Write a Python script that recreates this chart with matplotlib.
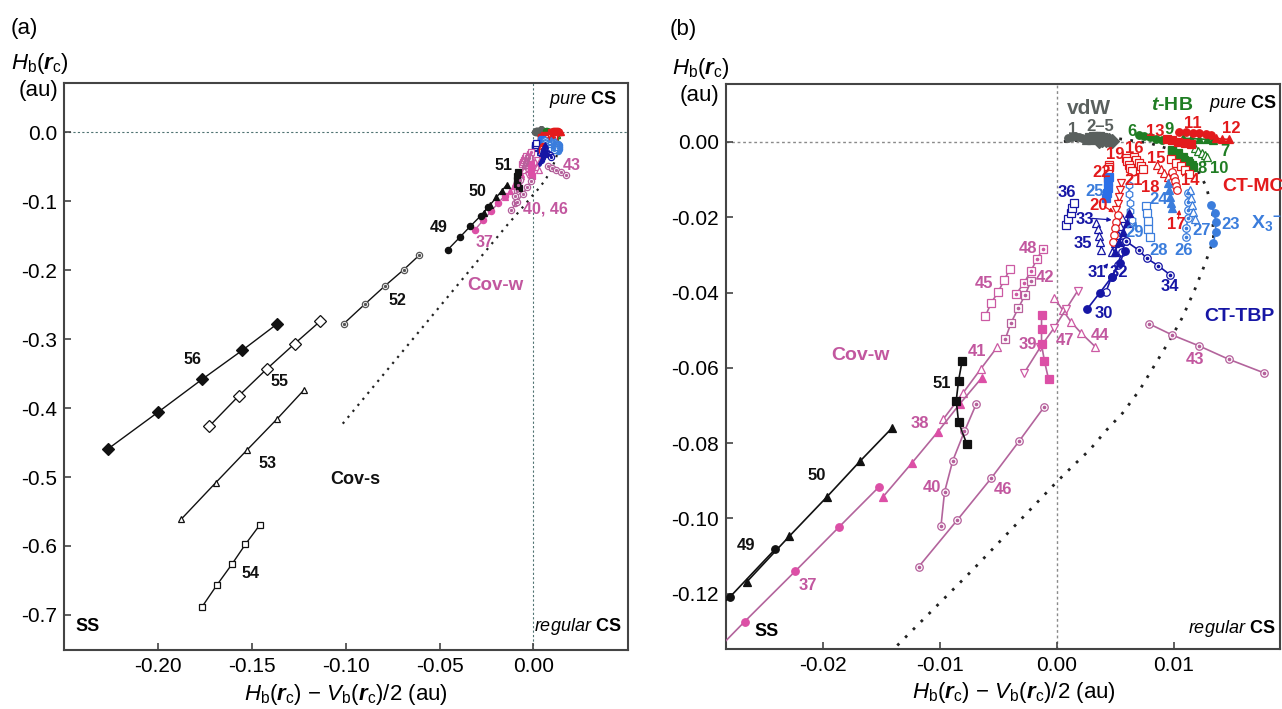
import matplotlib
matplotlib.use('Agg')
import matplotlib.pyplot as plt

plt.rcParams['font.family'] = ['Liberation Sans', 'DejaVu Sans']
plt.rcParams['axes.unicode_minus'] = False
plt.rcParams['mathtext.fontset'] = 'custom'
plt.rcParams['mathtext.rm'] = 'Liberation Sans'
plt.rcParams['mathtext.it'] = 'Liberation Sans:italic'
plt.rcParams['mathtext.bf'] = 'Liberation Sans:bold'
plt.rcParams['mathtext.bfit'] = 'Liberation Sans:italic:bold'

# ---- datos: H_b - V_b/2 (x) y H_b (y) en au, por sistema ----
# vdW
s1_x = [0.0010, 0.0013, 0.0016, 0.0019, 0.0022]
s1_y = [0.0011, 0.0014, 0.0015, 0.0014, 0.0011]
s2_x = [0.0028, 0.0031, 0.0034, 0.0037, 0.0040]
s2_y = [0.0012, 0.0015, 0.0016, 0.0015, 0.0012]
s3_x = [0.0033, 0.0036, 0.0039, 0.0042, 0.0045]
s3_y = [0.0008, 0.0011, 0.0013, 0.0012, 0.0009]
s4_x = [0.0025, 0.0029, 0.0033, 0.0037, 0.0041]
s4_y = [0.0004, 0.0006, 0.0007, 0.0006, 0.0004]
s5_x = [0.0036, 0.0039, 0.0042, 0.0045, 0.0047]
s5_y = [0.0003, 0.0005, 0.0006, 0.0005, 0.0003]
# t-HB
s6_x = [0.0070, 0.0075, 0.0080, 0.0085, 0.0090]
s6_y = [0.0019, 0.0016, 0.0012, 0.0009, 0.0005]
s7_x = [0.0118, 0.0121, 0.0124, 0.0127, 0.0129]
s7_y = [-0.0017, -0.0023, -0.0029, -0.0034, -0.0039]
s8_x = [0.0099, 0.0104, 0.0109, 0.0113, 0.0117]
s8_y = [-0.0025, -0.0036, -0.0047, -0.0057, -0.0066]
s9_x = [0.0108, 0.0115, 0.0122, 0.0129, 0.0134]
s9_y = [0.0010, 0.0009, 0.0008, 0.0007, 0.0006]
s10_x = [0.0099, 0.0104, 0.0108, 0.0112, 0.0116]
s10_y = [-0.0021, -0.0030, -0.0041, -0.0050, -0.0061]
# CT-MC
s11_x = [0.0105, 0.0111, 0.0117, 0.0122, 0.0128, 0.0132]
s11_y = [0.0026, 0.0026, 0.0025, 0.0023, 0.0021, 0.0019]
s12_x = [0.0136, 0.0141, 0.0147]
s12_y = [0.0010, 0.0008, 0.0007]
s13_x = [0.0094, 0.0099, 0.0104, 0.0110, 0.0115]
s13_y = [0.0007, 0.0004, 0.0001, -0.0002, -0.0005]
s14_x = [0.0098, 0.0102, 0.0106, 0.0110, 0.0113]
s14_y = [-0.0045, -0.0055, -0.0065, -0.0075, -0.0085]
s15_x = [0.0086, 0.0089, 0.0092, 0.0095, 0.0098]
s15_y = [-0.0062, -0.0072, -0.0082, -0.0092, -0.0102]
s16_x = [0.0066, 0.0068, 0.0070, 0.0072, 0.0074]
s16_y = [-0.0040, -0.0048, -0.0056, -0.0064, -0.0071]
s18_x = [0.0099, 0.0100, 0.0101, 0.0102, 0.0103]
s18_y = [-0.0080, -0.0092, -0.0104, -0.0116, -0.0128]
s19_x = [0.0059, 0.0060, 0.0062, 0.0063, 0.0064]
s19_y = [-0.0042, -0.0051, -0.0060, -0.0068, -0.0076]
s20_x = [0.0052, 0.0051, 0.0050, 0.0049, 0.0048]
s20_y = [-0.0194, -0.0212, -0.0229, -0.0247, -0.0265]
s21_x = [0.0055, 0.0054, 0.0053, 0.0052, 0.0051]
s21_y = [-0.0110, -0.0128, -0.0146, -0.0164, -0.0181]
s22_x = [0.0045, 0.0045, 0.0044, 0.0044, 0.0044]
s22_y = [-0.0061, -0.0067, -0.0073, -0.0085, -0.0096]
# X3-
s23_x = [0.0132, 0.0135, 0.0136, 0.0136, 0.0134]
s23_y = [-0.0167, -0.0189, -0.0212, -0.0238, -0.0269]
s24_x = [0.0095, 0.0096, 0.0097, 0.0098, 0.0099]
s24_y = [-0.0110, -0.0127, -0.0145, -0.0163, -0.0176]
s25_x = [0.0045, 0.0044, 0.0044, 0.0043, 0.0042]
s25_y = [-0.0092, -0.0107, -0.0121, -0.0136, -0.0150]
s26_x = [0.0112, 0.0112, 0.0112, 0.0112, 0.0111, 0.0111]
s26_y = [-0.0136, -0.0159, -0.0181, -0.0203, -0.0229, -0.0252]
s27_x = [0.0114, 0.0115, 0.0116, 0.0117, 0.0118]
s27_y = [-0.0128, -0.0149, -0.0167, -0.0185, -0.0205]
s28_x = [0.0076, 0.0077, 0.0078, 0.0078, 0.0080]
s28_y = [-0.0169, -0.0189, -0.0209, -0.0232, -0.0253]
s29_x = [0.0062, 0.0062, 0.0063, 0.0063, 0.0064]
s29_y = [-0.0115, -0.0138, -0.0161, -0.0184, -0.0207]
# CT-TBP
s30_x = [0.0026, 0.0037, 0.0047, 0.0054, 0.0058]
s30_y = [-0.0444, -0.0400, -0.0359, -0.0322, -0.0289]
s31_x = [0.0050, 0.0053, 0.0057, 0.0060, 0.0062]
s31_y = [-0.0291, -0.0265, -0.0238, -0.0214, -0.0189]
s32_x = [0.0042, 0.0047, 0.0052, 0.0056, 0.0059]
s32_y = [-0.0399, -0.0358, -0.0327, -0.0291, -0.0263]
s33_x = [0.0047, 0.0050, 0.0052, 0.0054, 0.0056]
s33_y = [-0.0292, -0.0268, -0.0247, -0.0223, -0.0202]
s34_x = [0.0059, 0.0070, 0.0077, 0.0087, 0.0097]
s34_y = [-0.0263, -0.0287, -0.0309, -0.0329, -0.0353]
s35_x = [0.0034, 0.0035, 0.0036, 0.0037, 0.0038]
s35_y = [-0.0214, -0.0232, -0.0250, -0.0267, -0.0287]
s36_x = [0.0008, 0.0010, 0.0012, 0.0013, 0.0015]
s36_y = [-0.0220, -0.0205, -0.0189, -0.0176, -0.0161]
# Cov-w
s37_x = [-0.0313, -0.0267, -0.0224, -0.0186, -0.0152]
s37_y = [-0.1420, -0.1274, -0.1141, -0.1022, -0.0916]
s38_x = [-0.0149, -0.0124, -0.0102, -0.0083, -0.0064]
s38_y = [-0.0944, -0.0853, -0.0771, -0.0696, -0.0626]
s39_x = [-0.0013, -0.0013, -0.0013, -0.00105, -0.0007]
s39_y = [-0.0460, -0.0498, -0.0538, -0.0582, -0.0630]
s40_x = [-0.0069, -0.0079, -0.0089, -0.0096, -0.0099]
s40_y = [-0.0697, -0.0769, -0.0847, -0.0930, -0.1019]
s41_x = [-0.0097, -0.0080, -0.0065, -0.0051]
s41_y = [-0.0736, -0.0666, -0.0603, -0.0545]
s42_x = [-0.0044, -0.0039, -0.0033, -0.0027, -0.0022]
s42_y = [-0.0523, -0.0480, -0.0442, -0.0406, -0.0369]
s43_x = [0.0079, 0.0099, 0.0122, 0.0147, 0.0177]
s43_y = [-0.0483, -0.0513, -0.0542, -0.0577, -0.0613]
s44_x = [-0.0002, 0.0005, 0.0012, 0.0021, 0.0033]
s44_y = [-0.0415, -0.0446, -0.0477, -0.0508, -0.0544]
s45_x = [-0.0061, -0.0056, -0.0050, -0.0045, -0.0040]
s45_y = [-0.0462, -0.0427, -0.0398, -0.0367, -0.0338]
s46_x = [-0.0118, -0.0085, -0.0056, -0.0032, -0.0011]
s46_y = [-0.1128, -0.1004, -0.0893, -0.0794, -0.0705]
s47_x = [-0.0028, -0.0014, -0.0002, 0.0008, 0.0018]
s47_y = [-0.0614, -0.0545, -0.0493, -0.0444, -0.0395]
s48_x = [-0.0035, -0.0028, -0.0022, -0.0017, -0.0012]
s48_y = [-0.0405, -0.0375, -0.0342, -0.0312, -0.0284]
# SS / Cov-s
s49_x = [-0.0455, -0.0391, -0.0335, -0.0280, -0.0241]
s49_y = [-0.170, -0.152, -0.136, -0.121, -0.1082]
s50_x = [-0.0265, -0.0229, -0.0197, -0.0168, -0.0141]
s50_y = [-0.1168, -0.1048, -0.0944, -0.0847, -0.0760]
s51_x = [-0.0081, -0.0084, -0.0086, -0.0084, -0.0077]
s51_y = [-0.0582, -0.0634, -0.0687, -0.0744, -0.0802]
s52_x = [-0.1011, -0.0896, -0.0789, -0.0690, -0.0608]
s52_y = [-0.2777, -0.2487, -0.2222, -0.1990, -0.1782]
s53_x = [-0.1878, -0.1693, -0.1527, -0.1365, -0.1225]
s53_y = [-0.5613, -0.5081, -0.4609, -0.4154, -0.3743]
s54_x = [-0.1769, -0.1688, -0.1607, -0.1535, -0.1457]
s54_y = [-0.6893, -0.6570, -0.6265, -0.5975, -0.5690]
s55_x = [-0.1727, -0.1572, -0.1420, -0.1273, -0.1136]
s55_y = [-0.4261, -0.3826, -0.3429, -0.3067, -0.2739]
s56_x = [-0.2266, -0.2000, -0.1767, -0.1551, -0.1365]
s56_y = [-0.4588, -0.4057, -0.3584, -0.3160, -0.2777]

# curva límite (punteada)
limite_x = [-0.1016, -0.01385, -0.0072, 0.0, 0.00137, 0.00282, 0.00427, 0.00564,
            0.00709, 0.00855, 0.00983, 0.01077, 0.0118, 0.01265, 0.01342, 0.01333,
            0.01282, 0.01197, 0.0105, 0.00795, 0.00479, 0.0]
limite_y = [-0.4226, -0.1344, -0.1137, -0.0903, -0.0861, -0.0818, -0.0765, -0.0720,
            -0.0659, -0.0584, -0.0518, -0.0465, -0.0393, -0.0327, -0.0260, -0.0189,
            -0.0120, -0.0069, -0.0027, -0.0003, 0.0011, 0.0]

# colores
BLACK = '#111111'
GREY = '#5a605e'
GREEN = '#1f7d23'
RED = '#e31a1c'
SKY = '#3b7ddc'
NAVY = '#1616a5'
PINK = '#dc4fa6'
PINK_LINE = '#b3649c'
PINK_TXT = '#c2579f'

# (x, y, color marcador, color línea, marcador, relleno)
series = [
    (s1_x, s1_y, GREY, GREY, 'o', 'full'),
    (s2_x, s2_y, GREY, GREY, 's', 'full'),
    (s3_x, s3_y, GREY, GREY, 'o', 'full'),
    (s4_x, s4_y, GREY, GREY, '^', 'full'),
    (s5_x, s5_y, GREY, GREY, 'D', 'full'),
    (s6_x, s6_y, GREEN, GREEN, 'o', 'full'),
    (s9_x, s9_y, GREEN, GREEN, '^', 'full'),
    (s7_x, s7_y, GREEN, GREEN, '^', 'open'),
    (s8_x, s8_y, GREEN, GREEN, 's', 'full'),
    (s10_x, s10_y, GREEN, GREEN, 's', 'full'),
    (s11_x, s11_y, RED, RED, 'o', 'full'),
    (s12_x, s12_y, RED, RED, '^', 'full'),
    (s13_x, s13_y, RED, RED, 's', 'full'),
    (s14_x, s14_y, RED, RED, 's', 'open'),
    (s15_x, s15_y, RED, RED, '^', 'open'),
    (s16_x, s16_y, RED, RED, 's', 'open'),
    (s18_x, s18_y, RED, RED, 'o', 'open'),
    (s19_x, s19_y, RED, RED, 's', 'open'),
    (s21_x, s21_y, RED, RED, 'v', 'open'),
    (s22_x, s22_y, RED, RED, 's', 'open'),
    (s23_x, s23_y, SKY, SKY, 'o', 'full'),
    (s24_x, s24_y, SKY, SKY, '^', 'full'),
    (s25_x, s25_y, '#2b6fe8', '#2b6fe8', 's', 'full'),
    (s26_x, s26_y, SKY, SKY, 'o', 'dot'),
    (s27_x, s27_y, SKY, SKY, '^', 'open'),
    (s28_x, s28_y, SKY, SKY, 's', 'open'),
    (s29_x, s29_y, SKY, SKY, 'h', 'open'),
    (s36_x, s36_y, NAVY, NAVY, 's', 'open'),
    (s35_x, s35_y, NAVY, NAVY, '^', 'open'),
    (s33_x, s33_y, NAVY, NAVY, '^', 'open'),
    (s20_x, s20_y, RED, RED, 'o', 'open'),
    (s31_x, s31_y, NAVY, NAVY, '^', 'full'),
    (s34_x, s34_y, NAVY, NAVY, 'o', 'dot'),
    (s32_x, s32_y, NAVY, NAVY, 'o', 'open'),
    (s30_x, s30_y, NAVY, NAVY, 'o', 'full'),
    (s45_x, s45_y, '#cc5aa3', PINK_LINE, 's', 'open'),
    (s48_x, s48_y, '#cc5aa3', PINK_LINE, 's', 'dot'),
    (s42_x, s42_y, '#b8609c', PINK_LINE, 's', 'dot'),
    (s41_x, s41_y, '#cc5aa3', PINK_LINE, '^', 'open'),
    (s44_x, s44_y, '#cc5aa3', PINK_LINE, '^', 'open'),
    (s47_x, s47_y, '#cc5aa3', PINK_LINE, 'v', 'open'),
    (s39_x, s39_y, PINK, PINK_LINE, 's', 'full'),
    (s38_x, s38_y, PINK, PINK_LINE, '^', 'full'),
    (s40_x, s40_y, '#b5609b', PINK_LINE, 'o', 'dot'),
    (s46_x, s46_y, '#b5609b', PINK_LINE, 'o', 'dot'),
    (s43_x, s43_y, '#b5609b', PINK_LINE, 'o', 'dot'),
    (s37_x, s37_y, PINK, PINK_LINE, 'o', 'full'),
    (s49_x, s49_y, BLACK, BLACK, 'o', 'full'),
    (s50_x, s50_y, BLACK, BLACK, '^', 'full'),
    (s51_x, s51_y, BLACK, BLACK, 's', 'full'),
    (s52_x, s52_y, '#555555', BLACK, 'o', 'dot'),
    (s53_x, s53_y, BLACK, BLACK, '^', 'open'),
    (s54_x, s54_y, BLACK, BLACK, 's', 'open'),
    (s55_x, s55_y, BLACK, BLACK, 'D', 'open'),
    (s56_x, s56_y, BLACK, BLACK, 'D', 'full'),
]


def dibuja_series(ax, ms, lw):
    for xs, ys, mc, lc, mk, fill in series:
        size = ms * 1.35 if mk == 'D' else ms
        face = mc if fill == 'full' else 'white'
        ax.plot(xs, ys, color=lc, lw=lw, marker=mk, ms=size, mfc=face,
                mec=mc, mew=0.9, zorder=3)
        if fill == 'dot':
            ax.plot(xs, ys, ls='none', marker='o', ms=size * 0.3,
                    mfc=mc, mec=mc, zorder=4)


def estilo_ejes(ax):
    for sp in ax.spines.values():
        sp.set_color('#444444')
        sp.set_linewidth(1.5)
    ax.tick_params(direction='in', length=5, width=1.2, labelsize=15,
                   color='#444444', pad=5)


fig = plt.figure(figsize=(12.82, 7.09), dpi=100)

# ---------------- panel (a) ----------------
ax1 = fig.add_axes([0.0499, 0.0832, 0.4399, 0.7997])
ax1.axhline(0, color='#4f7372', lw=0.8, ls=(0, (2, 2)), zorder=1)
ax1.axvline(0, color='#4f7372', lw=0.8, ls=(0, (2, 2)), zorder=1)
ax1.plot(limite_x, limite_y, color='#222222', lw=1.6, ls=(0, (1, 2.5)), zorder=2)
dibuja_series(ax1, 4.5, 1.0)
ax1.set_xlim(-0.2503, 0.0505)
ax1.set_ylim(-0.751, 0.0716)
ax1.set_xticks([-0.20, -0.15, -0.10, -0.05, 0.00])
ax1.set_xticklabels(['-0.20', '-0.15', '-0.10', '-0.05', '0.00'])
ax1.set_yticks([0.0, -0.1, -0.2, -0.3, -0.4, -0.5, -0.6, -0.7])
ax1.set_yticklabels(['0.0', '-0.1', '-0.2', '-0.3', '-0.4', '-0.5', '-0.6', '-0.7'])
estilo_ejes(ax1)

etiquetas_a = [
    ('56', -0.182, -0.330, BLACK), ('55', -0.1354, -0.361, BLACK),
    ('53', -0.142, -0.480, BLACK), ('54', -0.151, -0.640, BLACK),
    ('52', -0.0724, -0.244, BLACK), ('49', -0.0505, -0.1386, BLACK),
    ('50', -0.0296, -0.0864, BLACK), ('51', -0.0156, -0.0483, BLACK),
    ('40, 46', 0.0067, -0.111, PINK_TXT), ('37', -0.0258, -0.1594, PINK_TXT),
    ('43', 0.0204, -0.0478, PINK_TXT),
]
for t, x, y, c in etiquetas_a:
    ax1.text(x, y, t, color=c, fontsize=11.5, fontweight='bold', ha='center', va='center')
ax1.text(-0.095, -0.503, 'Cov-s', color=BLACK, fontsize=13, fontweight='bold',
         ha='center', va='center')
ax1.text(-0.0204, -0.2217, 'Cov-w', color=PINK_TXT, fontsize=13.5, fontweight='bold',
         ha='center', va='center')
ax1.text(0.98, 0.971, r'$\mathit{pure}$ CS', transform=ax1.transAxes, fontsize=13,
         fontweight='bold', ha='right', va='center')
ax1.text(0.988, 0.041, r'$\mathit{regular}$ CS', transform=ax1.transAxes, fontsize=13,
         fontweight='bold', ha='right', va='center')
ax1.text(0.02, 0.041, 'SS', transform=ax1.transAxes, fontsize=13,
         fontweight='bold', ha='left', va='center')

# ---------------- panel (b) ----------------
ax2 = fig.add_axes([0.5663, 0.0846, 0.4321, 0.7969])
ax2.axhline(0, color='#8a8a8a', lw=1.0, ls=(0, (2, 2)), zorder=1)
ax2.axvline(0, color='#8a8a8a', lw=1.0, ls=(0, (2, 2)), zorder=1)
ax2.plot(limite_x, limite_y, color='#222222', lw=2.0, ls=(0, (1, 3)), zorder=2)
dibuja_series(ax2, 5.4, 1.2)
ax2.set_xlim(-0.0283, 0.0191)
ax2.set_ylim(-0.1347, 0.0154)
ax2.set_xticks([-0.02, -0.01, 0.00, 0.01])
ax2.set_xticklabels(['-0.02', '-0.01', '0.00', '0.01'])
ax2.set_yticks([0.00, -0.02, -0.04, -0.06, -0.08, -0.10, -0.12])
ax2.set_yticklabels(['0.00', '-0.02', '-0.04', '-0.06', '-0.08', '-0.10', '-0.12'])
estilo_ejes(ax2)

etiquetas_b = [
    ('1', 0.0014, 0.0034, GREY), ('2\u20135', 0.0037, 0.0041, GREY),
    ('6', 0.0064, 0.0027, GREEN), ('13', 0.0084, 0.0027, RED),
    ('9', 0.0096, 0.0032, GREEN), ('11', 0.01165, 0.0050, RED),
    ('12', 0.0149, 0.0036, RED), ('7', 0.0144, -0.0026, GREEN),
    ('8', 0.0124, -0.0070, GREEN), ('10', 0.0139, -0.0070, GREEN),
    ('16', 0.0066, -0.0017, RED), ('19', 0.0050, -0.0032, RED),
    ('15', 0.0085, -0.0045, RED), ('22', 0.0038, -0.0082, RED),
    ('21', 0.0066, -0.0101, RED), ('18', 0.0080, -0.0120, RED),
    ('14', 0.0114, -0.0101, RED), ('36', 0.0009, -0.0135, NAVY),
    ('25', 0.0032, -0.0132, SKY), ('24', 0.0087, -0.0154, SKY),
    ('20', 0.0036, -0.0170, RED), ('33', 0.0024, -0.0205, NAVY),
    ('17', 0.0102, -0.0219, RED), ('29', 0.0067, -0.0241, SKY),
    ('27', 0.0124, -0.0234, SKY), ('23', 0.0149, -0.0218, SKY),
    ('35', 0.00225, -0.0269, NAVY), ('28', 0.0087, -0.0289, SKY),
    ('26', 0.0109, -0.0289, SKY), ('31', 0.0034, -0.0346, NAVY),
    ('32', 0.0053, -0.0346, NAVY), ('34', 0.0097, -0.0384, NAVY),
    ('30', 0.0040, -0.0455, NAVY), ('44', 0.0037, -0.0513, PINK_TXT),
    ('47', 0.0007, -0.0528, PINK_TXT), ('39', -0.0025, -0.0537, PINK_TXT),
    ('43', 0.0118, -0.0579, PINK_TXT), ('48', -0.00245, -0.0282, PINK_TXT),
    ('42', -0.0010, -0.0359, PINK_TXT), ('45', -0.0062, -0.0375, PINK_TXT),
    ('41', -0.0068, -0.0557, PINK_TXT), ('38', -0.0117, -0.0749, PINK_TXT),
    ('40', -0.0107, -0.0917, PINK_TXT), ('46', -0.0046, -0.0924, PINK_TXT),
    ('37', -0.0213, -0.1177, PINK_TXT), ('50', -0.0205, -0.0887, BLACK),
    ('49', -0.0266, -0.1072, BLACK), ('51', -0.00985, -0.0641, BLACK),
]
for t, x, y, c in etiquetas_b:
    ax2.text(x, y, t, color=c, fontsize=12, fontweight='bold', ha='center', va='center')

grupos_b = [
    ('vdW', 0.0028, 0.0089, GREY, 15), (r'$\mathbfit{t}$-HB', 0.0099, 0.0098, GREEN, 14),
    ('CT-MC', 0.0168, -0.0119, RED, 14), (r'X$_\mathbf{3}$$^\mathbf{-}$', 0.0179, -0.0216, SKY, 14),
    ('CT-TBP', 0.0156, -0.0464, NAVY, 14), ('Cov-w', -0.0168, -0.0568, PINK_TXT, 14),
]
for t, x, y, c, fs in grupos_b:
    ax2.text(x, y, t, color=c, fontsize=fs, fontweight='bold', ha='center', va='center')

# flechas de las etiquetas
flechas_b = [
    ((0.0041, -0.0172), (0.0049, -0.0187), RED),
    ((0.0030, -0.0203), (0.0047, -0.0207), NAVY),
    ((0.0104, -0.0205), (0.0105, -0.0180), RED),
    ((0.0067, -0.0224), (0.0068, -0.0211), SKY),
    ((0.0041, -0.0334), (0.0044, -0.0322), NAVY),
]
for (x0, y0), (x1, y1), c in flechas_b:
    ax2.annotate('', xy=(x1, y1), xytext=(x0, y0),
                 arrowprops=dict(arrowstyle='-|>', color=c, lw=0.9,
                                 mutation_scale=6, shrinkA=0, shrinkB=0))

ax2.text(0.995, 0.965, r'$\mathit{pure}$ CS', transform=ax2.transAxes, fontsize=13,
         fontweight='bold', ha='right', va='center')
ax2.text(0.991, 0.037, r'$\mathit{regular}$ CS', transform=ax2.transAxes, fontsize=13,
         fontweight='bold', ha='right', va='center')
ax2.text(0.052, 0.031, 'SS', transform=ax2.transAxes, fontsize=13,
         fontweight='bold', ha='left', va='center')

# textos de los ejes y rótulos de panel
ylab = r'$H_\mathrm{b}(\mathbfit{r}_\mathrm{c})$'
xlab = r'$H_\mathrm{b}(\mathbfit{r}_\mathrm{c})$ $-$ $V_\mathrm{b}(\mathbfit{r}_\mathrm{c})$/2 (au)'
fig.text(0.031, 0.911, ylab, fontsize=16, ha='center', va='center')
fig.text(0.030, 0.873, '(au)', fontsize=16, ha='center', va='center')
fig.text(0.547, 0.904, ylab, fontsize=16, ha='center', va='center')
fig.text(0.546, 0.866, '(au)', fontsize=16, ha='center', va='center')
fig.text(0.270, 0.020, xlab, fontsize=16, ha='center', va='center')
fig.text(0.791, 0.023, xlab, fontsize=16, ha='center', va='center')
fig.text(0.019, 0.960, '(a)', fontsize=16, ha='center', va='center')
fig.text(0.533, 0.958, '(b)', fontsize=16, ha='center', va='center')

fig.savefig('out.png', dpi=100)
